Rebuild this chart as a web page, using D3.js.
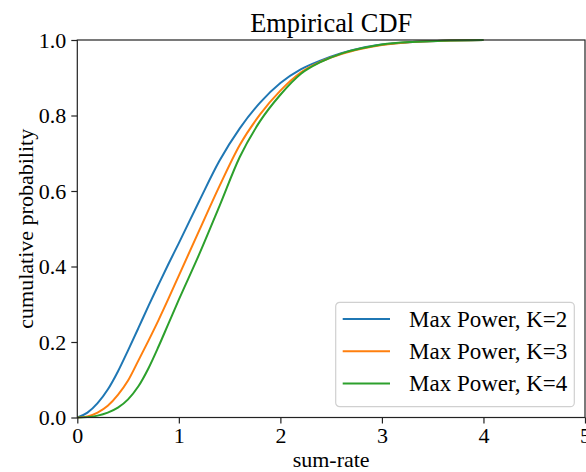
<!DOCTYPE html>
<html>
<head>
<meta charset="utf-8">
<script src="https://cdn.jsdelivr.net/npm/d3@7"></script>
<style>
  body { margin: 0; background: #fff; }
  svg text { font-family: "Liberation Serif", "Times New Roman", serif; fill: #000; }
</style>
</head>
<body>
<div id="chart"></div>
<script>
// values
let seriesNames = ["Max Power, K=2", "Max Power, K=3", "Max Power, K=4"];
let seriesColors = ["#1f77b4", "#ff7f0e", "#2ca02c"];

let sumRate = [0, 0.1, 0.2, 0.3, 0.4, 0.5, 0.6, 0.7, 0.8, 0.9, 1.0, 1.2, 1.4, 1.6, 1.8, 2.0, 2.2, 2.4, 2.6, 2.8, 3.0, 3.3, 3.6, 4.0];
let cdfK2 = [0, 0.013, 0.038, 0.074, 0.122, 0.178, 0.236, 0.295, 0.352, 0.408, 0.462, 0.573, 0.680, 0.766, 0.834, 0.886, 0.922, 0.946, 0.965, 0.979, 0.988, 0.995, 0.998, 1.0];
let cdfK3 = [0, 0.003, 0.013, 0.031, 0.060, 0.098, 0.150, 0.203, 0.258, 0.316, 0.376, 0.495, 0.613, 0.722, 0.803, 0.866, 0.914, 0.943, 0.963, 0.977, 0.987, 0.995, 0.998, 1.0];
let cdfK4 = [0, 0.001, 0.005, 0.013, 0.026, 0.048, 0.082, 0.130, 0.188, 0.250, 0.312, 0.432, 0.560, 0.690, 0.785, 0.855, 0.910, 0.942, 0.964, 0.978, 0.988, 0.995, 0.998, 1.0];

let xTicks = [0, 1, 2, 3, 4, 5];
let yTicks = [0, 0.2, 0.4, 0.6, 0.8, 1.0];

let areaWidth = 586;
let areaHeight = 472;
let border = { top: 40, bottom: 54.5, left: 77.3, right: 1 };
let width = areaWidth - border.left - border.right;
let height = areaHeight - border.top - border.bottom;

let svg = d3.select("#chart").append("svg")
  .attr("width", areaWidth)
  .attr("height", areaHeight);

let plotGroup = svg.append("g")
  .attr("transform", `translate(${border.left}, ${border.top})`);

let xScale = d3.scaleLinear().domain([0, 5]).range([0, width]);
let yScale = d3.scaleLinear().domain([0, 1]).range([height, 0]);

let series = [
  { name: seriesNames[0], color: seriesColors[0], ys: cdfK2 },
  { name: seriesNames[1], color: seriesColors[1], ys: cdfK3 },
  { name: seriesNames[2], color: seriesColors[2], ys: cdfK4 }
];

let line = d3.line()
  .x(d => xScale(d[0]))
  .y(d => yScale(d[1]))
  .curve(d3.curveMonotoneX);

series.forEach(function(s) {
  plotGroup.append("path")
    .datum(sumRate.map((x, i) => [x, s.ys[i]]))
    .attr("fill", "none")
    .attr("stroke", s.color)
    .attr("stroke-width", 2)
    .attr("d", line);
});

// axes
let bottomAx = d3.axisBottom(xScale).tickValues(xTicks).tickFormat(d3.format("d"))
  .tickSizeInner(6).tickSizeOuter(0).tickPadding(4);
let leftAx = d3.axisLeft(yScale).tickValues(yTicks).tickFormat(d3.format(".1f"))
  .tickSizeInner(6).tickSizeOuter(0).tickPadding(5);

let xAx = plotGroup.append("g")
  .attr("transform", `translate(0, ${height})`)
  .call(bottomAx);
let yAx = plotGroup.append("g").call(leftAx);

[xAx, yAx].forEach(function(ax) {
  ax.select(".domain").remove();
  ax.selectAll("line").attr("stroke", "#222").attr("stroke-width", 1.2);
  ax.selectAll("text").attr("font-size", "22px").attr("font-family", "Liberation Serif");
});

// frame
plotGroup.append("rect")
  .attr("width", width).attr("height", height)
  .attr("fill", "none")
  .attr("stroke", "#222")
  .attr("stroke-width", 1.2);

// labels
svg.append("text")
  .attr("x", border.left + width / 2).attr("y", 32)
  .attr("text-anchor", "middle").attr("font-size", "26.4px")
  .text("Empirical CDF");

svg.append("text")
  .attr("x", border.left + width / 2).attr("y", 467)
  .attr("text-anchor", "middle").attr("font-size", "22px")
  .text("sum-rate");

svg.append("text")
  .attr("transform", `translate(33, ${border.top + height / 2}) rotate(-90)`)
  .attr("text-anchor", "middle").attr("font-size", "22px")
  .text("cumulative probability");

// legend
let legend = svg.append("g").attr("transform", "translate(335.7, 302.3)");
legend.append("rect")
  .attr("width", 238.6).attr("height", 104.4)
  .attr("rx", 4).attr("ry", 4)
  .attr("fill", "#fff").attr("fill-opacity", 0.8)
  .attr("stroke", "#d0d0d0").attr("stroke-width", 1.2);

series.forEach(function(s, i) {
  let ly = 16.7 + i * 32.2;
  legend.append("line")
    .attr("x1", 7).attr("x2", 54.3)
    .attr("y1", ly).attr("y2", ly)
    .attr("stroke", s.color).attr("stroke-width", 2);
  legend.append("text")
    .attr("x", 73.3).attr("y", ly)
    .attr("dy", "0.35em")
    .attr("font-size", "23px")
    .text(s.name);
});
</script>
</body>
</html>
